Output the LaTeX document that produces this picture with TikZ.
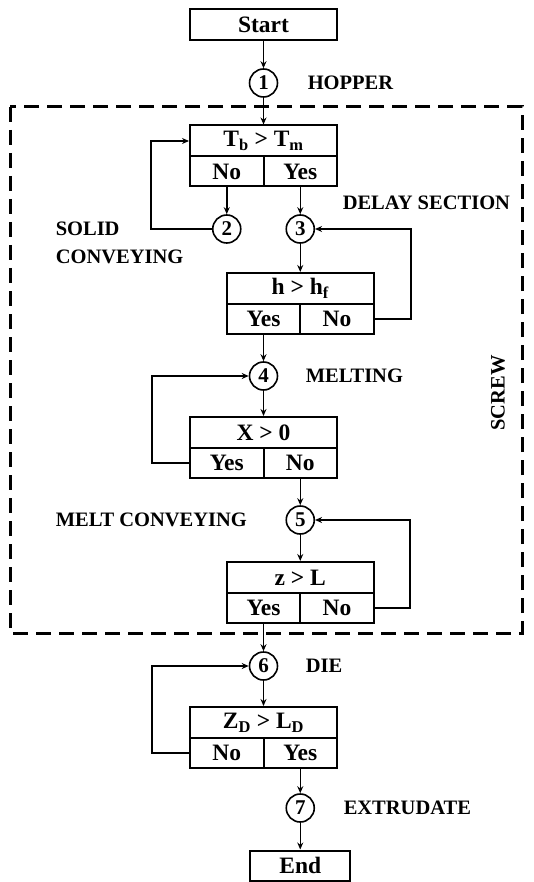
\documentclass[tikz,border=0pt]{standalone}
\usepackage{fontspec}
\setmainfont{Liberation Serif}
\usetikzlibrary{arrows.meta}

\begin{document}
\begin{tikzpicture}[x=1pt, y=-1pt, line width=1.5pt,
	box/.style={draw, line width=2pt, minimum width=147pt, minimum height=31pt, inner sep=0pt, font=\fontsize{23.5}{26}\selectfont\bfseries},
	cell/.style={box, minimum width=73.5pt, minimum height=30pt},
	pt/.style={draw, circle, line width=1.6pt, minimum size=28pt, inner sep=0pt, font=\fontsize{21}{24}\selectfont\bfseries},
	lbl/.style={anchor=west, inner sep=0pt, align=left, font=\fontsize{20.5}{28}\selectfont\bfseries},
	arr/.style={-{Stealth[length=7pt, width=6pt]}}]
	\useasboundingbox (0,0) rectangle (533,882);

	% 1. Start und Trichter
	\node[box] (start) at (263.5,24.5) {Start};
	\node[pt] (p1) at (263.5,83) {1};
	\node[lbl] (hopper) at (307,83) {HOPPER};

	% 2. Schnecke (gestrichelter Rahmen)
	\draw[line width=3pt, dash pattern=on 15pt off 8pt] (10,107) rectangle (522,633);
	\node[lbl, anchor=center, rotate=90] (screw) at (498,393) {SCREW};

	% 3. Feststoffförderung
	\node[box] (b1) at (263.5,141) {T\textsubscript{b} > T\textsubscript{m}};
	\node[cell] (b1no) at (226.75,171.5) {No};
	\node[cell] (b1yes) at (300.25,171.5) {Yes};
	\node[pt] (p2) at (226.75,229) {2};
	\node[pt] (p3) at (300.25,229) {3};
	\node[lbl] (solid) at (55,243) {SOLID\\CONVEYING};
	\node[lbl] (delay) at (342,203) {DELAY SECTION};

	% 4. Verzögerungszone
	\node[box] (b2) at (300.25,288.5) {h > h\textsubscript{f}};
	\node[cell] (b2yes) at (263.5,319) {Yes};
	\node[cell] (b2no) at (337,319) {No};

	% 5. Aufschmelzen
	\node[pt] (p4) at (263.5,376) {4};
	\node[lbl] (melting) at (305,376) {MELTING};
	\node[box] (b3) at (263.5,432.5) {X > 0};
	\node[cell] (b3yes) at (226.75,463) {Yes};
	\node[cell] (b3no) at (300.25,463) {No};

	% 6. Schmelzeförderung
	\node[pt] (p5) at (300.25,520) {5};
	\node[lbl] (melt) at (55,520) {MELT CONVEYING};
	\node[box] (b4) at (300.25,577.5) {z > L};
	\node[cell] (b4yes) at (263.5,608) {Yes};
	\node[cell] (b4no) at (337,608) {No};

	% 7. Düse und Ende
	\node[pt] (p6) at (263.5,666) {6};
	\node[lbl] (die) at (305,666) {DIE};
	\node[box] (b5) at (263.5,722.5) {Z\textsubscript{D} > L\textsubscript{D}};
	\node[cell] (b5no) at (226.75,753) {No};
	\node[cell] (b5yes) at (300.25,753) {Yes};
	\node[pt] (p7) at (300.25,808) {7};
	\node[lbl] (extrudate) at (343,808) {EXTRUDATE};
	\node[box, minimum width=100pt, minimum height=30pt] (end) at (300.25,865.5) {End};

	% Pfeile
	\draw[arr] (start) -- (p1);
	\draw[arr] (p1) -- (b1);
	\draw[arr] (b1no) -- (p2);
	\draw[arr] (b1yes) -- (p3);
	\draw[arr] (p3) -- (b2);
	\draw[arr] (b2yes) -- (p4);
	\draw[arr] (p4) -- (b3);
	\draw[arr] (b3no) -- (p5);
	\draw[arr] (p5) -- (b4);
	\draw[arr] (b4yes) -- (p6);
	\draw[arr] (p6) -- (b5);
	\draw[arr] (b5yes) -- (p7);
	\draw[arr] (p7) -- (end);

	% Rückführungen
	\draw[arr] (p2.west) -- ++(-61,0) |- (b1.west);
	\draw[arr] (b2no.east) -- ++(36,0) |- (p3.east);
	\draw[arr] (b3yes.west) -- ++(-37,0) |- (p4.west);
	\draw[arr] (b4no.east) -- ++(35,0) |- (p5.east);
	\draw[arr] (b5no.west) -- ++(-37,0) |- (p6.west);
\end{tikzpicture}
\end{document}
